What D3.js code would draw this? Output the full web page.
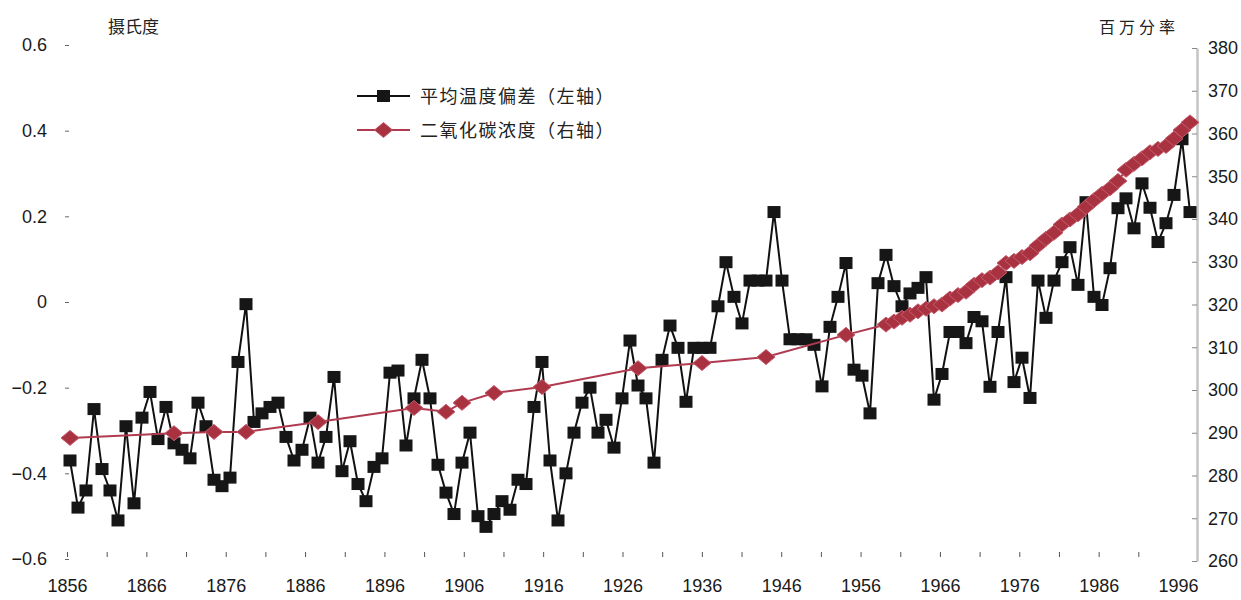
<!DOCTYPE html>
<html lang="zh">
<head>
<meta charset="utf-8">
<title>温度与二氧化碳</title>
<script src="https://cdn.jsdelivr.net/npm/d3@7/dist/d3.min.js"></script>
<style>
  body { margin: 0; background: #fff; }
  .cjk { font-family: "Noto Sans CJK SC", sans-serif; fill: #222; }
</style>
</head>
<body>
<script>
// temperature anomaly, one value per year from 1856 to 1996 (left axis, deg C)
var tempStart = 1856;
var tempValues = [
  -0.37, -0.48, -0.44, -0.25, -0.39, -0.44, -0.51, -0.29, -0.47, -0.27,   // 1856-1865
  -0.21, -0.32, -0.245, -0.33, -0.345, -0.365, -0.235, -0.29, -0.415, -0.43, // 1866-1875
  -0.41, -0.14, -0.005, -0.28, -0.26, -0.245, -0.235, -0.315, -0.37, -0.345, // 1876-1885
  -0.27, -0.375, -0.315, -0.175, -0.395, -0.325, -0.425, -0.465, -0.385, -0.365, // 1886-1895
  -0.165, -0.16, -0.335, -0.225, -0.135, -0.225, -0.38, -0.445, -0.495, -0.375, // 1896-1905
  -0.305, -0.50, -0.525, -0.495, -0.465, -0.485, -0.415, -0.425, -0.245, -0.14, // 1906-1915
  -0.37, -0.51, -0.40, -0.305, -0.235, -0.20, -0.305, -0.275, -0.34, -0.225,   // 1916-1925
  -0.09, -0.195, -0.225, -0.375, -0.135, -0.055, -0.107, -0.233, -0.107, -0.107, // 1926-1935
  -0.107, -0.01, 0.093, 0.012, -0.05, 0.05, 0.05, 0.05, 0.21, 0.05,           // 1936-1945
  -0.087, -0.087, -0.087, -0.10, -0.197, -0.058, 0.012, 0.091, -0.158, -0.172, // 1946-1955
  -0.26, 0.044, 0.11, 0.037, -0.01, 0.02, 0.033, 0.058, -0.228, -0.168,       // 1956-1965
  -0.07, -0.07, -0.096, -0.035, -0.045, -0.198, -0.07, 0.058, -0.187, -0.13,  // 1966-1975
  -0.224, 0.05, -0.037, 0.05, 0.093, 0.128, 0.04, 0.233, 0.012, -0.007,       // 1976-1985
  0.079, 0.219, 0.242, 0.172, 0.277, 0.22, 0.14, 0.184, 0.25, 0.38,           // 1986-1995
  0.21                                                                        // 1996
];
var tempYears = d3.range(tempStart, tempStart + tempValues.length);

// CO2 concentration (right axis, ppm)
var co2Years = [1856, 1869, 1874, 1878, 1887, 1899, 1903, 1905, 1909, 1915, 1927, 1935, 1943, 1953,
  1958, 1959, 1960, 1961, 1962, 1963, 1964, 1965, 1966, 1967, 1968, 1969, 1970, 1971, 1972, 1973,
  1974, 1975, 1976, 1977, 1978, 1979, 1980, 1981, 1982, 1983, 1984, 1985, 1986, 1987, 1988, 1989,
  1990, 1991, 1992, 1993, 1994, 1995, 1996];
var co2Values = [288.8, 289.9, 290.2, 290.2, 292.5, 295.8, 294.9, 297.0, 299.3, 300.7, 305.1, 306.3, 307.7, 312.9,
  315.3, 316.0, 316.9, 317.6, 318.4, 319.0, 319.6, 320.0, 321.4, 322.2, 323.0, 324.6, 325.7, 326.3, 327.5, 329.7,
  330.2, 331.1, 332.0, 333.8, 335.4, 336.8, 338.7, 339.9, 341.1, 342.8, 344.4, 345.9, 347.2, 348.9, 351.5, 352.9,
  354.2, 355.6, 356.4, 357.1, 358.8, 360.8, 362.6];

var leftTicks = [-0.6, -0.4, -0.2, 0, 0.2, 0.4, 0.6];
var rightTicks = [260, 270, 280, 290, 300, 310, 320, 330, 340, 350, 360, 370, 380];
var xLabelYears = [1856, 1866, 1876, 1886, 1896, 1906, 1916, 1926, 1936, 1946, 1956, 1966, 1976, 1986, 1996];
var xTickYears = [1856, 1861, 1866, 1871, 1876, 1881, 1886, 1891, 1896, 1901, 1906, 1911, 1916, 1921, 1926,
  1931, 1936, 1941, 1946, 1951, 1956, 1961, 1966, 1971, 1976, 1981, 1986, 1991, 1996];

var legendNames = ["平均温度偏差（左轴）", "二氧化碳浓度（右轴）"];

var W = 1241, H = 600;
var svg = d3.select("body").append("svg")
  .attr("width", W).attr("height", H);
svg.append("rect").attr("width", W).attr("height", H).attr("fill", "#fff");

var x = d3.scaleLinear().domain([1856, 1996]).range([70, 1190]);
// the printed year labels sit a little left of the points in the original
var xLab = x.copy().range([67, 1178]);
var yL = d3.scaleLinear().domain([-0.6, 0.6]).range([559, 45]);
var yR = d3.scaleLinear().domain([260, 380]).range([561, 48]);

function styleAxis(g) {
  g.attr("font-family", "'Liberation Sans', Arial, sans-serif").attr("font-size", 18);
  g.selectAll("text").attr("fill", "#1a1a1a");
}

// left axis
var gL = svg.append("g")
  .attr("transform", "translate(69,0)")
  .call(d3.axisLeft(yL).tickValues(leftTicks).tickSize(4).tickPadding(18)
    .tickFormat(function (d) { return d === 0 ? "0" : d3.format(".1f")(d); }))
  .call(styleAxis);
gL.select(".domain").remove();
gL.selectAll(".tick line").attr("stroke", "#666");

// right axis
var gR = svg.append("g")
  .attr("transform", "translate(1197,0)")
  .call(d3.axisRight(yR).tickValues(rightTicks).tickSizeInner(-5).tickSizeOuter(0).tickPadding(11))
  .call(styleAxis);
gR.select(".domain").attr("stroke", "#c4c4c4").attr("stroke-width", 2.5);
gR.selectAll(".tick line").attr("stroke", "#888");

// bottom axis
var gB = svg.append("g")
  .attr("transform", "translate(0,552)")
  .call(d3.axisBottom(xLab).tickValues(xTickYears).tickSize(5).tickPadding(22)
    .tickFormat(function (d) { return xLabelYears.indexOf(d) >= 0 ? d : ""; }))
  .call(styleAxis);
gB.select(".domain").remove();
gB.selectAll(".tick line").attr("stroke", "#555")
  .attr("opacity", function (d) { return d === 1996 ? 0 : 1; });

// axis titles
svg.append("text").attr("class", "cjk").attr("x", 108).attr("y", 33)
  .attr("font-size", 17).text("摄氏度");
svg.append("text").attr("class", "cjk").attr("x", 1099).attr("y", 33)
  .attr("font-size", 16).attr("letter-spacing", 4).text("百万分率");

// temperature series
var tempLine = d3.line()
  .x(function (d, i) { return x(tempYears[i]); })
  .y(function (d) { return yL(d); });
svg.append("path").datum(tempValues)
  .attr("fill", "none").attr("stroke", "#111").attr("stroke-width", 2)
  .attr("d", tempLine);
svg.selectAll("rect.sq").data(tempValues).enter().append("rect")
  .attr("class", "sq")
  .attr("x", function (d, i) { return x(tempYears[i]) - 6.5; })
  .attr("y", function (d) { return yL(d) - 6; })
  .attr("width", 13).attr("height", 12)
  .attr("fill", "#161616");

// co2 series
var diamond = "M0,-7.5L9,0L0,7.5L-9,0Z";
var co2Line = d3.line()
  .x(function (d, i) { return x(co2Years[i]); })
  .y(function (d) { return yR(d); });
svg.append("path").datum(co2Values)
  .attr("fill", "none").attr("stroke", "#b03a50").attr("stroke-width", 2)
  .attr("d", co2Line);
svg.selectAll("path.dm").data(co2Values).enter().append("path")
  .attr("class", "dm")
  .attr("transform", function (d, i) { return "translate(" + x(co2Years[i]) + "," + yR(d) + ")"; })
  .attr("d", diamond)
  .attr("fill", "#a8323f").attr("stroke", "#c65a6c").attr("stroke-width", 1);

// legend
var lg = svg.append("g").attr("transform", "translate(357,96)");
lg.append("line").attr("x1", 0).attr("x2", 53).attr("y1", 0).attr("y2", 0)
  .attr("stroke", "#111").attr("stroke-width", 2);
lg.append("rect").attr("x", 20).attr("y", -6).attr("width", 13).attr("height", 12).attr("fill", "#161616");
lg.append("text").attr("class", "cjk").attr("x", 63).attr("y", 7)
  .attr("font-size", 18).attr("letter-spacing", 1.5).text(legendNames[0]);
lg.append("line").attr("x1", 0).attr("x2", 53).attr("y1", 34).attr("y2", 34)
  .attr("stroke", "#b03a50").attr("stroke-width", 2);
lg.append("path").attr("transform", "translate(26.5,34)").attr("d", diamond)
  .attr("fill", "#a8323f").attr("stroke", "#c65a6c").attr("stroke-width", 1);
lg.append("text").attr("class", "cjk").attr("x", 63).attr("y", 41)
  .attr("font-size", 18).attr("letter-spacing", 1.5).text(legendNames[1]);
</script>
</body>
</html>
